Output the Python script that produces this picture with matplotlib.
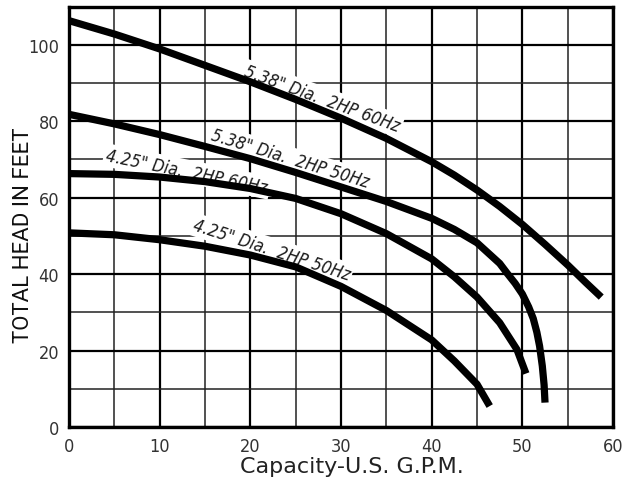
import matplotlib
matplotlib.use("Agg")
import matplotlib.pyplot as plt
from matplotlib import font_manager as fm
from matplotlib.ticker import MultipleLocator

# pump curves (GPM, feet)
gpm_538_60 = [0, 5, 10, 15, 20, 25, 30, 35, 40, 42.5, 45, 47.5, 50, 52.5, 55, 57, 58.7]
head_538_60 = [106.3, 102.8, 98.9, 94.6, 90.3, 85.7, 80.8, 75.5, 69.4, 65.9, 62.0, 57.7, 53.0, 47.8, 42.4, 37.8, 34.0]

gpm_538_50 = [0, 5, 10, 15, 20, 25, 30, 35, 40, 42.5, 45, 47.5, 48.3, 49.2, 50, 50.7, 51.2, 51.6, 51.9, 52.2, 52.4, 52.5]
head_538_50 = [81.8, 79.3, 76.5, 73.4, 70.2, 66.6, 62.8, 59.0, 54.6, 51.7, 48.2, 42.8, 40.3, 37.6, 34.8, 31.4, 28.4, 24.8, 21.2, 16.0, 11.0, 6.4]

gpm_425_60 = [0, 5, 10, 15, 20, 25, 30, 35, 40, 42.5, 45, 47.5, 49.4, 50.4]
head_425_60 = [66.3, 66.1, 65.4, 64.2, 62.4, 59.8, 55.8, 50.6, 44.0, 39.3, 34.0, 27.3, 20.3, 14.0]

gpm_425_50 = [0, 5, 10, 15, 20, 25, 30, 35, 40, 42.5, 45, 46.4]
head_425_50 = [50.8, 50.3, 49.0, 47.3, 45.0, 41.9, 36.8, 30.5, 22.8, 17.3, 11.2, 5.5]

labels = ['5.38" Dia.  2HP 60Hz', '5.38" Dia.  2HP 50Hz',
          '4.25" Dia.  2HP 60Hz', '4.25" Dia.  2HP 50Hz']
x_ticks = [0, 10, 20, 30, 40, 50, 60]
y_ticks = [0, 20, 40, 60, 80, 100]


def pick_narrow(italic):
    # look for any condensed / narrow face that is installed
    best = None
    for f in fm.fontManager.ttflist:
        name = f.name + ' ' + str(f.fname)
        narrow = ('Narrow' in name or 'Condensed' in name or 'Cond' in f.fname
                  or str(f.stretch) in ('condensed', 'semi-condensed', 'extra-condensed', '500', '300'))
        if not narrow:
            continue
        if (f.style != 'normal') != italic:
            continue
        w = f.weight if isinstance(f.weight, int) else 400
        score = abs(w - 350)
        if best is None or score < best[0]:
            best = (score, f.fname)
    if best:
        return fm.FontProperties(fname=best[1])
    return fm.FontProperties(family='Roboto', style='italic' if italic else 'normal')


tick_font = pick_narrow(False)
lab_font = pick_narrow(True)

fig = plt.figure(figsize=(6.24, 4.81), dpi=100)
ax = fig.add_axes([0.1106, 0.110, 0.8718, 0.8744])

curves = [(gpm_538_60, head_538_60), (gpm_538_50, head_538_50),
          (gpm_425_60, head_425_60), (gpm_425_50, head_425_50)]
for gx, hy in curves:
    ax.plot(gx, hy, color='black', lw=5.2, solid_capstyle='butt',
            solid_joinstyle='round', zorder=4)

# curve labels (position in data coords, rotation in degrees)
label_pos = [(27.9, 86.0, -20), (24.4, 70.2, -17), (13.0, 66.9, -11.5), (22.3, 46.5, -18)]
for txt, (lx, ly, rot) in zip(labels, label_pos):
    t = ax.text(lx, ly, txt, rotation=rot, ha='center', va='center',
                fontproperties=lab_font, rotation_mode='anchor',
                bbox=dict(facecolor='white', edgecolor='none', pad=1.5), zorder=3)
    t.set_fontsize(12.5)
    t.set_color('#1a1a1a')

ax.set_xlim(0, 60)
ax.set_ylim(0, 110)
ax.xaxis.set_minor_locator(MultipleLocator(5))
ax.yaxis.set_minor_locator(MultipleLocator(10))
ax.set_xticks(x_ticks)
ax.set_yticks(y_ticks)
ax.grid(which='major', color='black', lw=1.6, zorder=1)
ax.grid(which='minor', color='#222222', lw=1.1, zorder=1)
ax.set_axisbelow(True)
ax.tick_params(which='both', length=0, pad=7)
for lab in ax.get_xticklabels() + ax.get_yticklabels():
    lab.set_fontproperties(tick_font)
    lab.set_fontsize(13)
    lab.set_color('#333333')
for sp in ax.spines.values():
    sp.set_linewidth(2.4)

ax.set_ylabel('TOTAL HEAD IN FEET', fontsize=16, family='Roboto', color='#111111')
ax.yaxis.set_label_coords(-0.064, 0.458)
ax.set_xlabel('Capacity-U.S. G.P.M.', fontsize=16, family='DejaVu Sans', color='#222222')
ax.xaxis.set_label_coords(0.52, -0.068)

fig.savefig('out.png', dpi=100)
